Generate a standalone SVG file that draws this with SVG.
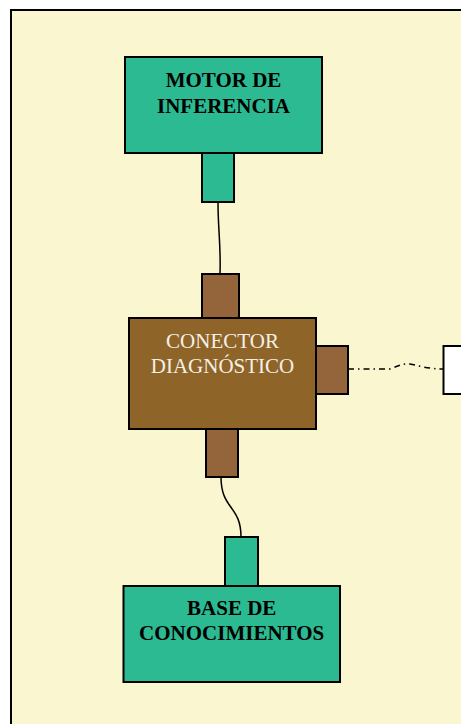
<svg xmlns="http://www.w3.org/2000/svg" width="461" height="724" viewBox="0 0 461 724">
<style>
.box{stroke:#000;stroke-width:2}
.green{fill:#2bba92}
.brown{fill:#8f6428}
.port{fill:#94653a}
.t{font-family:"Liberation Serif","Times New Roman",serif;font-size:21px;text-anchor:middle}
.b{font-weight:bold;fill:#000}
.w{fill:#f4f0e6}
.wire{fill:none;stroke:#000;stroke-width:1.5}
</style>
<rect x="0" y="0" width="461" height="724" fill="#ffffff"/>
<rect id="frame" x="11" y="10" width="470" height="740" fill="#faf7d0" stroke="#000" stroke-width="2"/>
<g id="connectors">
<path class="wire" d="M218,202 C218,230 221,245 220,274"/>
<path class="wire" d="M221,477 C221,510 241,505 241,537"/>
<path class="wire" stroke-dasharray="6,4,1.5,4" d="M348,369 L390,369 C398,366 404,363 410,364 C420,366 428,369 444,369"/>
</g>
<g id="motor">
<rect class="box green" x="125" y="57" width="197" height="96"/>
<rect class="box green" x="202" y="153" width="32" height="49"/>
<text class="t b" x="223.5" y="87">MOTOR DE</text>
<text class="t b" x="223.5" y="112.5">INFERENCIA</text>
</g>
<g id="conector">
<rect class="box port" x="202" y="274" width="37" height="44"/>
<rect class="box port" x="206" y="429" width="32" height="48"/>
<rect class="box port" x="316" y="346" width="32" height="48"/>
<rect class="box brown" x="129" y="318" width="187" height="111"/>
<text class="t w" x="222.5" y="348">CONECTOR</text>
<text class="t w" x="222.5" y="372.5">DIAGNÓSTICO</text>
</g>
<g id="base">
<rect class="box green" x="225" y="537" width="33" height="49"/>
<rect class="box green" x="123.5" y="586" width="216.5" height="96"/>
<text class="t b" x="231.7" y="615">BASE DE</text>
<text class="t b" x="231.7" y="639.5">CONOCIMIENTOS</text>
</g>
<g id="external">
<rect class="box" x="443.5" y="346" width="40" height="48" fill="#ffffff"/>
</g>
</svg>
